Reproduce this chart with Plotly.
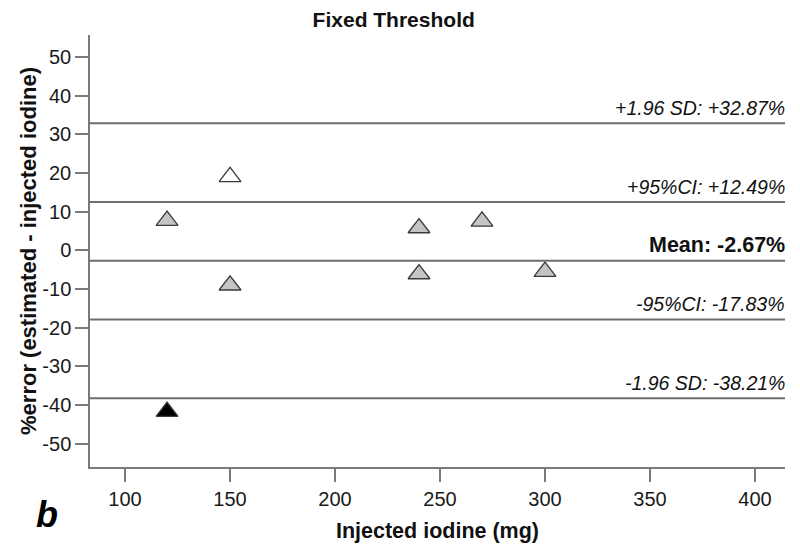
import plotly.graph_objects as go

# Data
x_gray = [120, 240, 270, 150, 240, 300]
y_gray = [7.7, 5.8, 7.5, -9.0, -6.1, -5.5]
x_open = [150]
y_open = [19.0]
x_black = [120]
y_black = [-41.7]

ref_values = [32.87, 12.49, -2.67, -17.83, -38.21]
ref_labels = ["+1.96 SD: +32.87%", "+95%CI: +12.49%", "Mean: -2.67%",
              "-95%CI: -17.83%", "-1.96 SD: -38.21%"]
ref_bold = [False, False, True, False, False]

x_ticks = [100, 150, 200, 250, 300, 350, 400]
x_ticktext = ["100", "150", "200", "250", "300", "350", "400"]
y_ticks = [50, 40, 30, 20, 10, 0, -10, -20, -30, -40, -50]
y_ticktext = ["50", "40", "30", "20", "10", "0", "-10", "-20", "-30", "-40", "-50"]

FONT = "Liberation Sans, Arial, sans-serif"
AXIS_COL = "#7a7a7a"
LINE_COL = "#6e6e6e"

fig = go.Figure()

def add_pts(xs, ys, fill):
    fig.add_trace(go.Scatter(
        x=xs, y=ys, mode="markers",
        marker=dict(symbol="triangle-up", size=19, color=fill,
                    line=dict(color="#3a3a3a", width=1.3)),
        showlegend=False, hoverinfo="x+y"))

shapes = []
annotations = []
for v, lab, b in zip(ref_values, ref_labels, ref_bold):
    shapes.append(dict(type="line", xref="paper", yref="y", x0=0, x1=1,
                       y0=v, y1=v, line=dict(color=LINE_COL, width=2)))
    if b:
        text = f"<b>{lab}</b>"
        fsize = 21.5
    else:
        text = f"<i>{lab}</i>"
        fsize = 19.5
    annotations.append(dict(xref="paper", yref="y", x=1, y=v, text=text,
                            showarrow=False, xanchor="right", yanchor="bottom",
                            yshift=2, xshift=2,
                            font=dict(family=FONT, size=fsize, color="#111")))

add_pts(x_gray, y_gray, "#c4c4c4")
add_pts(x_open, y_open, "#ffffff")
add_pts(x_black, y_black, "#000000")

annotations.append(dict(xref="paper", yref="paper", x=-0.062, y=-0.111,
                        text="<b><i>b</i></b>", showarrow=False,
                        xanchor="center", yanchor="middle",
                        font=dict(family=FONT, size=36, color="#000")))

# page body has an 8px margin, so the figure is sized/placed to compensate
fig.update_layout(
    width=792, height=546,
    margin=dict(l=82, r=15, t=27, b=87),
    paper_bgcolor="white", plot_bgcolor="white",
    title=dict(text="<b>Fixed Threshold</b>", x=0.487, xref="container",
               xanchor="center", y=0.978, yref="container", yanchor="middle",
               font=dict(family=FONT, size=21, color="#111")),
    shapes=shapes, annotations=annotations,
    xaxis=dict(range=[83.3, 414.3], tickvals=x_ticks, ticktext=x_ticktext,
               ticks="outside", automargin=False,
               ticklen=13, tickcolor=AXIS_COL, tickwidth=1.5,
               showline=True, linecolor=AXIS_COL, linewidth=1.5,
               showgrid=False, zeroline=False,
               tickfont=dict(family=FONT, size=20, color="#1a1a1a"),
               title=dict(text="<b>Injected iodine (mg)</b>", standoff=14,
                          font=dict(family=FONT, size=21.5, color="#111"))),
    yaxis=dict(range=[-56, 55.7], tickvals=y_ticks, ticktext=y_ticktext,
               ticks="outside", automargin=False,
               ticklen=13, tickcolor=AXIS_COL, tickwidth=1.5,
               showline=True, linecolor=AXIS_COL, linewidth=1.5,
               showgrid=False, zeroline=False,
               tickfont=dict(family=FONT, size=20, color="#1a1a1a"),
               title=dict(text="<b>%error (estimated - injected iodine)</b>",
                          standoff=0,
                          font=dict(family=FONT, size=22, color="#111"))),
)

fig.write_html("out.html")
